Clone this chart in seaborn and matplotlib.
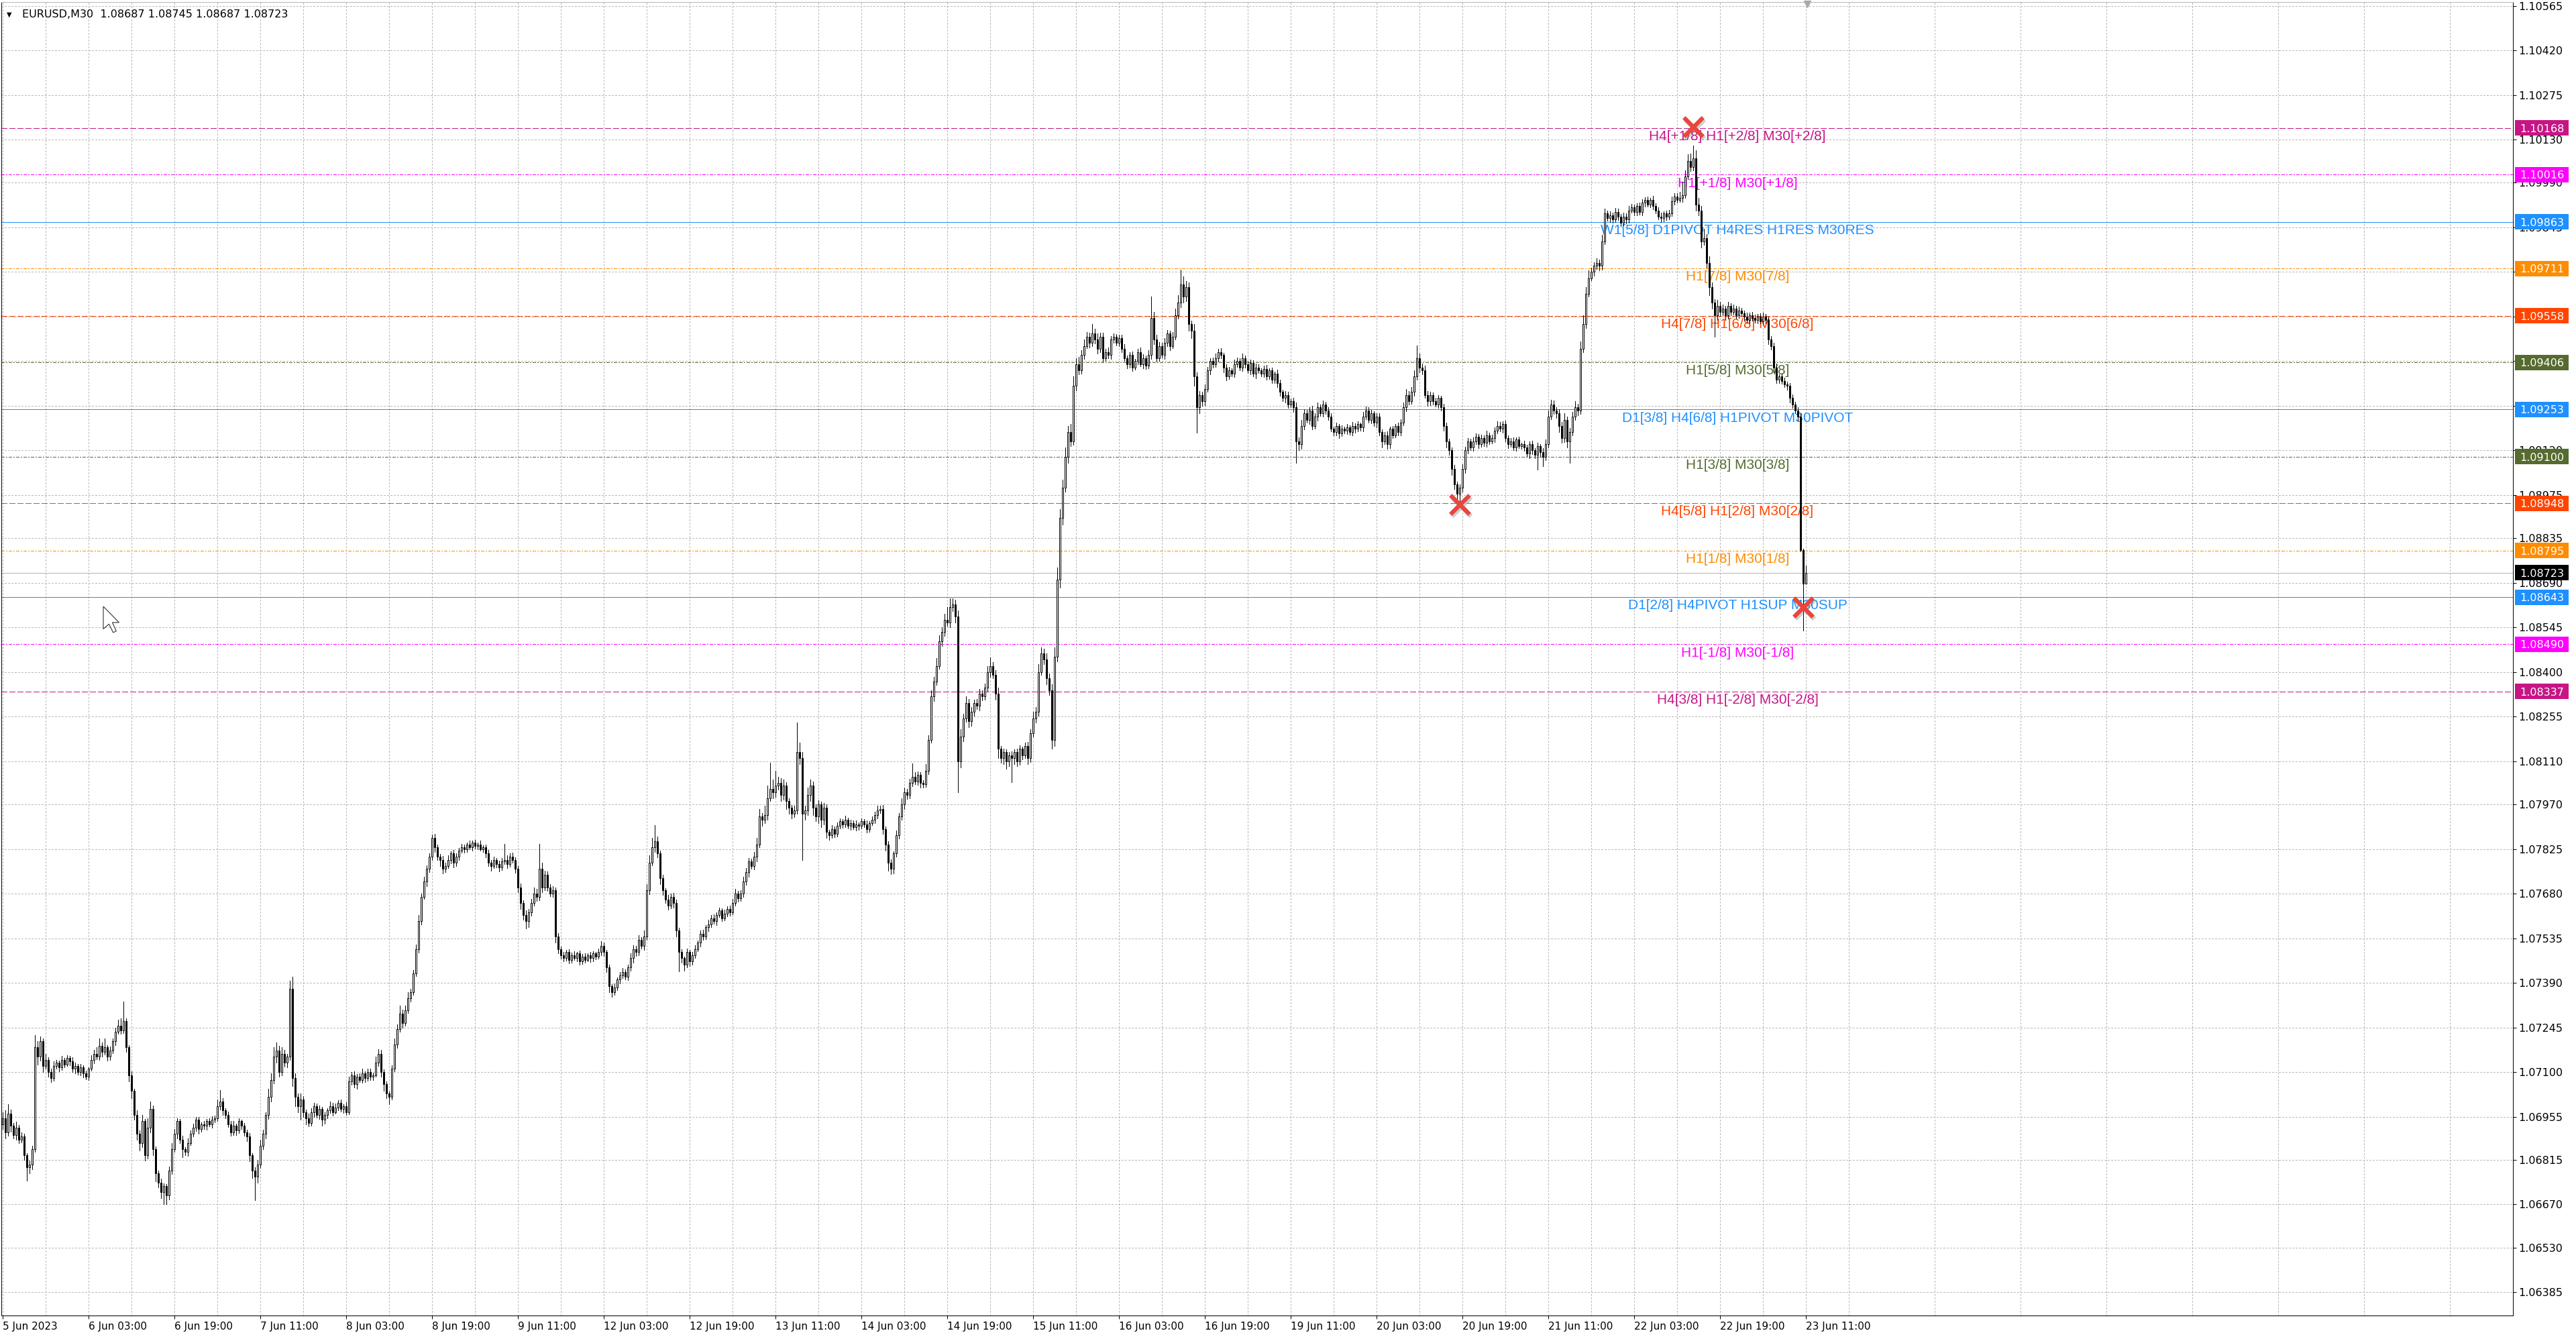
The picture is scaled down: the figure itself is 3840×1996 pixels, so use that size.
import numpy as np
import pandas as pd
import seaborn as sns
import matplotlib
matplotlib.use('Agg')
import matplotlib.pyplot as plt
from matplotlib.patches import Rectangle, Polygon
from matplotlib import transforms

# EURUSD M30 bars, prices given in points (0.00001) above BASE
BASE = 1.06
first_open = 930
closes = [
    950, 905, 965, 925, 895, 920, 880, 890, 830, 790,
    800, 850, 1180, 1150, 1200, 1120, 1140, 1100, 1080, 1120,
    1130, 1115, 1140, 1125, 1145, 1135, 1110, 1120, 1100, 1115,
    1095, 1085, 1110, 1140, 1160, 1150, 1185, 1165, 1180, 1150,
    1170, 1200, 1230, 1250, 1235, 1265, 1180, 1090, 1040, 960,
    900, 870, 940, 830, 920, 980, 850, 770, 740, 710,
    730, 700, 780, 850, 900, 940, 880, 850, 840, 870,
    900, 920, 945, 915, 930, 925, 940, 930, 945, 950,
    990, 1005, 975, 960, 930, 905, 925, 910, 940, 925,
    905, 890, 830, 780, 760, 800, 860, 900, 960, 1020,
    1075, 1150, 1170, 1100, 1160, 1130, 1150, 1370, 1080, 1020,
    990, 1010, 970, 950, 935, 970, 990, 960, 980, 945,
    960, 975, 990, 970, 985, 1000, 980, 990, 970, 1070,
    1090, 1060, 1085, 1075, 1095, 1080, 1100, 1085, 1090, 1130,
    1160, 1100, 1060, 1030, 1020, 1110, 1190, 1240, 1290, 1260,
    1300, 1340, 1360, 1420, 1500, 1590, 1670, 1720, 1760, 1800,
    1860, 1830, 1800, 1790, 1760, 1770, 1790, 1810, 1780, 1800,
    1820, 1830, 1825, 1840, 1830, 1845, 1835, 1840, 1825, 1830,
    1810, 1780, 1770, 1790, 1775, 1765, 1785, 1790, 1775, 1800,
    1790, 1760, 1700, 1650, 1610, 1590, 1620, 1650, 1680, 1670,
    1760, 1700, 1740, 1700, 1680, 1690, 1540, 1500, 1480, 1470,
    1490, 1465, 1480, 1470, 1485, 1460, 1475, 1465, 1480, 1470,
    1485, 1475, 1490, 1510, 1490, 1440, 1380, 1360, 1375, 1400,
    1415, 1425, 1410, 1440, 1470, 1500, 1490, 1530, 1510, 1540,
    1690, 1780, 1830, 1850, 1810, 1730, 1690, 1660, 1640, 1670,
    1650, 1560, 1490, 1470, 1450, 1490, 1460, 1480, 1500, 1520,
    1550, 1540, 1570, 1580, 1600, 1590, 1610, 1625, 1600, 1615,
    1630, 1620, 1650, 1680, 1665, 1680, 1720, 1750, 1785, 1770,
    1800, 1840, 1930, 1920, 1935, 1990, 2020, 2010, 2030, 2040,
    2000, 2030, 1980, 1960, 1940, 1950, 2140, 2120, 1940, 1950,
    2000, 2030, 1960, 1930, 1970, 1920, 1960, 1880, 1870, 1890,
    1875, 1900, 1915, 1905, 1920, 1900, 1910, 1895, 1905, 1900,
    1915, 1905, 1890, 1910, 1920, 1935, 1950, 1955, 1890, 1840,
    1780, 1760, 1810, 1870, 1930, 1970, 2010, 2000, 2040, 2060,
    2045, 2065, 2040, 2035, 2080, 2180, 2320, 2370, 2420, 2500,
    2530, 2570, 2560, 2610, 2620, 2580, 2110, 2190, 2250, 2300,
    2240, 2270, 2300, 2290, 2330, 2320, 2350, 2400, 2420, 2390,
    2330, 2150, 2120, 2140, 2110, 2130, 2120, 2140, 2110, 2150,
    2130, 2160, 2120, 2200, 2250, 2270, 2400, 2460, 2440, 2380,
    2340, 2180, 2450, 2700, 2900, 3000, 3100, 3180, 3150, 3330,
    3400, 3380, 3430, 3460, 3490, 3470, 3500, 3480, 3450, 3490,
    3420, 3440, 3430, 3480, 3490, 3470, 3485, 3450, 3420, 3400,
    3430, 3390, 3410, 3440, 3400, 3420, 3395, 3430, 3550, 3480,
    3420, 3460, 3430, 3470, 3500, 3460, 3490, 3560, 3600, 3660,
    3620, 3650, 3530, 3510, 3360, 3260, 3300, 3280, 3320, 3380,
    3410, 3400, 3420, 3440, 3430, 3390, 3360, 3380, 3370, 3400,
    3410, 3390, 3420, 3400, 3380, 3405, 3370, 3390, 3380, 3370,
    3385, 3360, 3380, 3350, 3370, 3340, 3310, 3290, 3300, 3270,
    3280, 3260, 3150, 3140, 3200, 3240, 3220, 3250, 3200, 3230,
    3260, 3240, 3270, 3250, 3230, 3190, 3180, 3200, 3175, 3190,
    3185, 3195, 3180, 3200, 3190, 3205, 3195, 3230, 3250, 3220,
    3240, 3210, 3230, 3180, 3150, 3170, 3140, 3190, 3170, 3200,
    3180, 3210, 3260, 3300, 3280, 3310, 3360, 3420, 3390, 3380,
    3300, 3280, 3300, 3280, 3270, 3290, 3260, 3200, 3150, 3120,
    3060, 3010, 2980, 3000, 3060, 3120, 3150, 3130, 3150, 3165,
    3140, 3160, 3145, 3170, 3150, 3160, 3185, 3200, 3190, 3205,
    3160, 3140, 3150, 3130, 3155, 3135, 3140, 3130, 3110, 3140,
    3120, 3105, 3135, 3115, 3100, 3140, 3230, 3270, 3250, 3240,
    3200, 3160, 3220, 3150, 3180, 3230, 3260, 3250, 3450, 3530,
    3630, 3680, 3700, 3720, 3730, 3720, 3800, 3890, 3875, 3885,
    3870, 3895, 3880, 3860, 3880, 3870, 3900, 3910, 3895, 3915,
    3895, 3925, 3935, 3920, 3935, 3915, 3900, 3880, 3875, 3890,
    3880, 3890, 3930, 3945, 3935, 3940, 3950, 4010, 4060, 4040,
    4070, 3920, 3900, 3800, 3810, 3730, 3650, 3600, 3560, 3590,
    3570, 3580, 3560, 3590, 3570, 3580, 3560, 3575, 3565, 3555,
    3545, 3560, 3550, 3545, 3555, 3540, 3555, 3545, 3480, 3460,
    3390, 3350, 3360, 3345, 3335, 3330, 3290, 3270, 3250, 3230,
    2796, 2687, 2723,
]
upper_wick = [
    20, 25, 30, 12, 10, 18, 8, 15, 10, 6,
    12, 10, 40, 20, 15, 10, 18, 8, 12, 15,
    10, 8, 12, 6, 10, 8, 14, 10, 6, 12,
    8, 10, 6, 15, 12, 20, 25, 10, 30, 8,
    12, 10, 15, 20, 25, 65, 10, 8, 12, 6,
    15, 10, 20, 8, 30, 25, 12, 8, 10, 14,
    8, 6, 12, 20, 15, 10, 8, 12, 6, 15,
    10, 12, 8, 10, 6, 12, 8, 10, 12, 8,
    20, 37, 10, 8, 12, 10, 15, 8, 10, 6,
    10, 8, 12, 6, 10, 15, 20, 12, 10, 25,
    20, 30, 25, 15, 20, 12, 10, 26, 40, 15,
    10, 20, 12, 8, 15, 12, 10, 8, 12, 6,
    10, 8, 15, 10, 12, 8, 10, 6, 12, 15,
    10, 12, 8, 10, 15, 8, 12, 10, 8, 20,
    15, 12, 8, 10, 6, 12, 20, 15, 25, 12,
    15, 20, 10, 12, 15, 20, 10, 15, 12, 10,
    11, 15, 10, 8, 12, 10, 15, 8, 12, 10,
    8, 12, 10, 6, 12, 8, 10, 6, 12, 8,
    10, 12, 8, 10, 6, 12, 10, 51, 15, 10,
    12, 8, 10, 12, 8, 15, 10, 12, 20, 15,
    81, 20, 15, 12, 10, 15, 10, 12, 8, 10,
    6, 10, 8, 12, 6, 10, 8, 12, 6, 10,
    8, 6, 12, 15, 10, 8, 10, 6, 12, 8,
    10, 12, 8, 10, 15, 12, 10, 15, 8, 20,
    20, 25, 30, 52, 15, 10, 12, 8, 15, 10,
    12, 10, 8, 10, 6, 12, 8, 10, 12, 8,
    10, 12, 8, 15, 10, 12, 8, 10, 6, 12,
    8, 10, 12, 15, 8, 10, 15, 12, 10, 8,
    15, 20, 25, 12, 30, 40, 85, 30, 50, 20,
    15, 20, 12, 10, 8, 15, 97, 30, 20, 15,
    25, 20, 15, 10, 12, 8, 15, 10, 8, 12,
    8, 12, 10, 8, 12, 6, 10, 8, 12, 6,
    10, 8, 12, 6, 10, 12, 15, 10, 12, 8,
    10, 12, 8, 15, 12, 20, 15, 10, 12, 42,
    15, 12, 10, 8, 20, 15, 20, 15, 25, 20,
    15, 20, 40, 30, 20, 15, 20, 25, 15, 20,
    12, 15, 10, 12, 15, 10, 12, 20, 27, 12,
    15, 20, 10, 12, 8, 10, 12, 8, 10, 12,
    8, 10, 12, 15, 20, 15, 25, 20, 15, 20,
    15, 20, 30, 40, 30, 25, 30, 20, 25, 30,
    20, 25, 15, 20, 15, 12, 30, 15, 20, 12,
    12, 10, 15, 12, 10, 8, 12, 10, 15, 8,
    10, 12, 8, 10, 15, 12, 8, 15, 71, 20,
    15, 12, 10, 15, 12, 10, 15, 20, 25, 47,
    25, 20, 15, 12, 20, 15, 12, 10, 15, 12,
    10, 12, 15, 10, 12, 8, 10, 12, 8, 15,
    12, 10, 15, 8, 12, 10, 8, 12, 10, 8,
    10, 12, 8, 10, 6, 12, 10, 8, 12, 10,
    8, 10, 15, 12, 20, 15, 12, 10, 15, 12,
    15, 10, 12, 8, 10, 12, 8, 10, 6, 12,
    8, 10, 6, 12, 8, 10, 6, 15, 12, 10,
    12, 8, 10, 12, 8, 10, 12, 8, 10, 6,
    10, 12, 15, 20, 12, 15, 20, 42, 15, 12,
    15, 12, 10, 8, 12, 10, 8, 12, 10, 8,
    10, 12, 8, 10, 15, 12, 10, 8, 12, 10,
    8, 12, 10, 15, 8, 12, 10, 15, 12, 10,
    12, 8, 10, 12, 8, 10, 6, 12, 8, 10,
    12, 8, 10, 6, 12, 15, 20, 15, 12, 10,
    15, 12, 20, 10, 12, 15, 20, 12, 25, 30,
    20, 25, 15, 12, 15, 10, 20, 15, 10, 12,
    8, 12, 10, 8, 12, 10, 15, 12, 10, 8,
    10, 12, 8, 10, 6, 12, 8, 10, 12, 8,
    10, 12, 15, 10, 12, 20, 42, 20, 22, 25,
    40, 25, 20, 15, 30, 12, 20, 15, 12, 20,
    12, 15, 10, 12, 8, 15, 10, 12, 8, 10,
    12, 8, 10, 12, 8, 10, 12, 8, 10, 12,
    10, 12, 8, 10, 12, 8, 10, 12, 8, 10,
    10, 4, 22,
]
lower_wick = [
    15, 20, 12, 18, 10, 15, 12, 8, 15, 44,
    20, 15, 10, 25, 12, 20, 10, 15, 12, 8,
    10, 12, 8, 10, 6, 12, 10, 15, 8, 10,
    12, 8, 10, 6, 12, 8, 10, 15, 8, 12,
    10, 8, 12, 6, 10, 8, 15, 20, 25, 15,
    20, 25, 15, 17, 12, 15, 20, 25, 15, 20,
    40, 30, 15, 12, 10, 15, 12, 26, 10, 12,
    8, 10, 12, 15, 8, 10, 12, 6, 10, 8,
    10, 12, 15, 10, 8, 12, 10, 15, 8, 10,
    12, 15, 20, 25, 77, 20, 12, 10, 15, 12,
    15, 12, 20, 15, 10, 12, 15, 10, 25, 30,
    20, 45, 15, 20, 12, 10, 15, 8, 12, 20,
    12, 10, 8, 12, 6, 10, 8, 12, 10, 8,
    12, 10, 15, 8, 10, 12, 8, 10, 12, 6,
    10, 15, 20, 15, 25, 10, 8, 12, 10, 15,
    10, 8, 12, 10, 8, 12, 10, 8, 15, 10,
    12, 15, 10, 20, 15, 10, 8, 12, 15, 10,
    10, 8, 12, 10, 6, 10, 8, 12, 6, 10,
    12, 10, 15, 8, 10, 12, 8, 10, 12, 8,
    10, 12, 15, 20, 15, 23, 20, 12, 10, 15,
    12, 15, 10, 12, 8, 10, 20, 15, 12, 10,
    8, 12, 10, 6, 10, 12, 8, 10, 6, 12,
    10, 8, 6, 10, 12, 15, 20, 15, 10, 8,
    12, 10, 8, 12, 10, 15, 12, 10, 8, 12,
    10, 12, 8, 15, 12, 20, 15, 10, 12, 8,
    15, 20, 62, 15, 20, 10, 15, 12, 10, 8,
    12, 10, 8, 12, 10, 8, 12, 6, 10, 8,
    10, 12, 8, 10, 12, 8, 10, 12, 15, 10,
    12, 15, 10, 20, 12, 15, 10, 20, 15, 12,
    20, 15, 25, 20, 15, 12, 10, 20, 150, 20,
    15, 20, 25, 15, 20, 25, 15, 20, 15, 10,
    12, 10, 8, 12, 10, 8, 12, 6, 10, 12,
    8, 10, 12, 10, 8, 12, 10, 8, 15, 20,
    25, 17, 15, 10, 12, 10, 15, 12, 10, 12,
    10, 12, 15, 10, 8, 12, 10, 15, 12, 10,
    15, 12, 10, 15, 12, 20, 100, 20, 15, 12,
    20, 15, 12, 10, 15, 12, 10, 12, 15, 10,
    20, 30, 15, 20, 25, 15, 79, 20, 15, 12,
    15, 10, 20, 12, 10, 15, 12, 10, 15, 20,
    15, 30, 20, 15, 25, 20, 15, 20, 15, 12,
    15, 12, 10, 12, 8, 15, 10, 12, 15, 10,
    12, 8, 10, 12, 10, 8, 12, 10, 8, 12,
    10, 12, 8, 10, 6, 12, 10, 8, 12, 15,
    12, 10, 8, 12, 10, 15, 8, 10, 12, 15,
    20, 15, 20, 25, 30, 83, 20, 15, 12, 10,
    12, 10, 8, 12, 10, 15, 12, 8, 10, 12,
    8, 10, 12, 10, 8, 12, 10, 15, 8, 10,
    12, 10, 8, 12, 10, 15, 12, 10, 15, 12,
    10, 15, 70, 20, 15, 12, 10, 15, 12, 10,
    12, 8, 10, 12, 10, 8, 12, 10, 15, 8,
    10, 12, 8, 10, 12, 8, 10, 12, 8, 10,
    12, 10, 15, 12, 20, 10, 15, 12, 10, 8,
    12, 10, 8, 12, 10, 8, 12, 10, 15, 12,
    10, 15, 12, 10, 8, 12, 10, 15, 20, 15,
    20, 15, 37, 25, 15, 12, 10, 8, 12, 10,
    12, 8, 10, 12, 10, 8, 12, 10, 8, 12,
    10, 12, 8, 10, 12, 8, 10, 12, 10, 15,
    12, 10, 48, 15, 31, 12, 10, 8, 12, 15,
    20, 15, 12, 20, 70, 12, 10, 15, 12, 10,
    12, 10, 8, 12, 10, 15, 12, 10, 8, 12,
    10, 8, 12, 10, 8, 12, 10, 8, 12, 10,
    8, 10, 12, 8, 10, 12, 10, 8, 12, 10,
    12, 10, 8, 12, 10, 8, 12, 10, 8, 12,
    10, 20, 15, 20, 12, 15, 25, 20, 70, 15,
    12, 10, 15, 12, 10, 8, 12, 10, 8, 12,
    10, 12, 8, 10, 12, 8, 10, 12, 15, 12,
    15, 10, 12, 8, 10, 12, 15, 12, 10, 12,
    5, 152, 0,
]

level_prices = [1.10168, 1.10016, 1.09863, 1.09711, 1.09558, 1.09406, 1.09253,
                1.09100, 1.08948, 1.08795, 1.08643, 1.08490, 1.08337]
level_labels = [
    'H4[+1/8] H1[+2/8] M30[+2/8]',
    'H1[+1/8] M30[+1/8]',
    'W1[5/8] D1PIVOT H4RES H1RES M30RES',
    'H1[7/8] M30[7/8]',
    'H4[7/8] H1[6/8] M30[6/8]',
    'H1[5/8] M30[5/8]',
    'D1[3/8] H4[6/8] H1PIVOT M30PIVOT',
    'H1[3/8] M30[3/8]',
    'H4[5/8] H1[2/8] M30[2/8]',
    'H1[1/8] M30[1/8]',
    'D1[2/8] H4PIVOT H1SUP M30SUP',
    'H1[-1/8] M30[-1/8]',
    'H4[3/8] H1[-2/8] M30[-2/8]',
]
level_colors = ['#C71585', '#FF00FF', '#1E90FF', '#FF8C00', '#FF4500', '#556B2F', '#1E90FF',
                '#556B2F', '#FF4500', '#FF8C00', '#1E90FF', '#FF00FF', '#C71585']
level_styles = ['dash', 'dashdot', 'solid', 'dashdot', 'dash', 'dashdot', 'solid',
                'dashdot', 'dash', 'dashdot', 'solid', 'dashdot', 'dash']

last_price = 1.08723
header = 'EURUSD,M30  1.08687 1.08745 1.08687 1.08723'

y_ticks = [1.10565, 1.10420, 1.10275, 1.10130, 1.09990, 1.09845, 1.09700, 1.09555,
           1.09410, 1.09265, 1.09120, 1.08975, 1.08835, 1.08690, 1.08545, 1.08400,
           1.08255, 1.08110, 1.07970, 1.07825, 1.07680, 1.07535, 1.07390, 1.07245,
           1.07100, 1.06955, 1.06815, 1.06670, 1.06530, 1.06385]
x_tick_labels = ['5 Jun 2023', '6 Jun 03:00', '6 Jun 19:00', '7 Jun 11:00', '8 Jun 03:00',
                 '8 Jun 19:00', '9 Jun 11:00', '12 Jun 03:00', '12 Jun 19:00', '13 Jun 11:00',
                 '14 Jun 03:00', '14 Jun 19:00', '15 Jun 11:00', '16 Jun 03:00', '16 Jun 19:00',
                 '19 Jun 11:00', '20 Jun 03:00', '20 Jun 19:00', '21 Jun 11:00', '22 Jun 03:00',
                 '22 Jun 19:00', '23 Jun 11:00']

# red crosses (bar index, price)
cross_bars = [630, 543, 671]
cross_prices = [1.10172, 1.08945, 1.08610]

assert len(closes) == len(upper_wick) == len(lower_wick)

# ---- build OHLC frame
c = BASE + np.array(closes) / 1e5
o = np.r_[BASE + first_open / 1e5, c[:-1]]
df = pd.DataFrame({'bar': np.arange(len(c)), 'open': o, 'close': c})
df['high'] = df[['open', 'close']].max(axis=1) + np.array(upper_wick) / 1e5
df['low'] = df[['open', 'close']].min(axis=1) - np.array(lower_wick) / 1e5
df['up'] = df['close'] >= df['open']

sns.set_theme(style='white')
plt.rcParams['font.family'] = ['DejaVu Sans']
plt.rcParams['axes.linewidth'] = 0.72

W, H = 3840, 1996
fig = plt.figure(figsize=(W / 100, H / 100), dpi=100)
ax = fig.add_axes([2 / W, 35 / H, 3744 / W, 1958 / H])
ax.set_facecolor('white')
ymin, ymax = 1.063088, 1.105773
ax.set_xlim(-0.5, 935.5)
ax.set_ylim(ymin, ymax)
px = (ymax - ymin) / 1958  # price per pixel

# grid
grid_kw = dict(color='#b9b9b9', lw=0.72, ls=(0, (2.2, 2.2)), zorder=0.5, antialiased=False)
ax.set_yticks(y_ticks)
ax.set_yticklabels([f'{v:.5f}' for v in y_ticks])
major = list(range(0, 673, 32))
ax.set_xticks(major)
ax.set_xticklabels(x_tick_labels, ha='left')
ax.set_xticks([b for b in range(16, 936, 32)], minor=True)
ax.grid(which='both', axis='x', **grid_kw)
ax.grid(which='major', axis='y', **grid_kw)
ax.yaxis.tick_right()
ax.tick_params(axis='y', which='major', length=3.6, width=0.72, pad=2.5, labelsize=11.5,
               colors='black', right=True, left=False)
ax.tick_params(axis='x', which='major', length=3.6, width=0.72, pad=3, labelsize=11,
               colors='black', bottom=True)
ax.tick_params(axis='x', which='minor', length=0)
for s in ['right', 'bottom', 'left']:
    ax.spines[s].set_color('black')
ax.spines['top'].set_color('#b8b8b8')

# levels
dash_map = {'dash': (0, (8.6, 3.6)), 'dashdot': (0, (5, 2.2, 1.4, 2.2)), 'solid': '-'}
lab_tr = transforms.offset_copy(ax.transData, fig=fig, x=0, y=-2.2, units='points')
for p, lab, col, st in zip(level_prices, level_labels, level_colors, level_styles):
    ax.axhline(p, color=col, lw=0.72, ls=dash_map[st], zorder=2, antialiased=False)
    ax.text(646.5, p, lab, ha='center', va='top', color=col, fontsize=15,
            family=['Liberation Sans', 'DejaVu Sans'], transform=lab_tr, zorder=2.2)
ax.axhline(last_price, color='#b4b4b4', lw=0.72, zorder=1.8, antialiased=False)

# candles
ax.vlines(df['bar'], df['low'], df['high'], color='black', lw=0.72, zorder=3, antialiased=False)
body_lo = df[['open', 'close']].min(axis=1)
body_h = (df['close'] - df['open']).abs()
ax.bar(df['bar'], body_h, bottom=body_lo, width=0.5,
       color=np.where(df['up'], 'white', 'black'), edgecolor='black', linewidth=0.72, zorder=4)

# red crosses with a soft shadow
sns.scatterplot(x=np.array(cross_bars) + 0.6, y=np.array(cross_prices) - 3 * px, marker='x',
                s=420, linewidth=5, color='#777777', alpha=0.35, ax=ax, zorder=5, legend=False)
sns.scatterplot(x=cross_bars, y=cross_prices, marker='x', s=420, linewidth=4.5,
                color='#E8463E', ax=ax, zorder=6, legend=False)

# price boxes on the right scale
box_h = 23 * px
for p, col in list(zip(level_prices, level_colors)) + [(last_price, 'black')]:
    ax.add_patch(Rectangle((936.25, p - box_h / 2), 20, box_h, facecolor=col, edgecolor='none',
                           clip_on=False, zorder=8))
    ax.text(946.25, p, f'{p:.5f}', ha='center', va='center_baseline', color='white',
            fontsize=11.5, clip_on=False, zorder=9)

# header
fig.text(10 / W, 1 - 22 / H, '\u25bc', fontsize=7, va='center', ha='left', color='black')
fig.text(33 / W, 1 - 22 / H, header, fontsize=11.5, va='center', ha='left', color='black')

# chart shift marker
ax.plot([672.5], [ymax - 3 * px], marker='v', ms=7, color='#a9a9a9', clip_on=False, zorder=7)

# mouse cursor
tip = np.array([154, 904])
shape = np.array([[0, 0], [0, 16], [4, 12.5], [7, 18.5], [9.2, 17.5], [6.4, 11.4], [11.2, 11.4]]) * 2.1
pts = np.column_stack([tip[0] + shape[:, 0], H - (tip[1] + shape[:, 1])])
fig.add_artist(Polygon(pts, closed=True, facecolor='white', edgecolor='#333333', lw=0.8,
                       transform=transforms.IdentityTransform(), zorder=20))

fig.savefig('out.png', dpi=100, facecolor='white')
